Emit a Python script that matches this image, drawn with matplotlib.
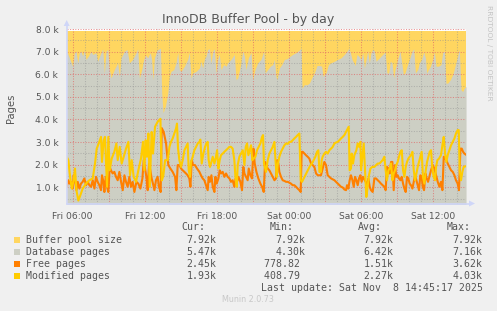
import matplotlib
matplotlib.use("Agg")
import matplotlib.pyplot as plt
import numpy as np

W, H = 497, 311

# time in hours since Fri 00:00, values in pages
db_hours = [5.5, 6.0, 6.14, 6.28, 6.42, 6.56, 6.69, 6.83, 6.97, 7.11, 7.31, 7.53, 7.67, 7.94, 8.08, 8.36, 8.5, 8.64,
            8.78, 8.92, 9.06, 9.19, 9.47, 9.75, 9.89, 10.03, 10.31, 10.53, 10.72, 11.0, 11.28, 11.42, 11.56, 11.75,
            11.92, 12.06, 12.25, 12.47, 12.58, 12.69, 12.81, 13.03, 13.31, 13.42, 13.53, 13.72, 13.92, 14.06, 14.19,
            14.42, 14.61, 14.75, 14.89, 15.03, 15.31, 15.58, 15.72, 15.86, 16.0, 16.28, 16.56, 16.69, 16.83, 16.97,
            17.11, 17.25, 17.39, 17.53, 17.67, 17.81, 17.94, 18.08, 18.22, 18.36, 18.58, 18.78, 18.92, 19.19, 19.47,
            19.61, 19.75, 19.97, 20.17, 20.31, 20.44, 20.64, 20.86, 21.0, 21.19, 21.42, 21.69, 21.92, 22.03, 22.25,
            22.47, 22.67, 22.81, 22.94, 23.03, 23.22, 23.42, 23.64, 23.86, 24.06, 24.33, 24.61, 24.89, 25.03, 25.11,
            25.31, 25.53, 25.72, 25.92, 26.14, 26.36, 26.56, 26.75, 26.86, 26.97, 27.11, 27.31, 27.53, 27.81, 28.08,
            28.36, 28.64, 28.92, 29.0, 29.14, 29.28, 29.42, 29.53, 29.69, 29.83, 30.03, 30.17, 30.31, 30.58, 30.72,
            30.86, 31.0, 31.14, 31.28, 31.56, 31.83, 32.03, 32.19, 32.33, 32.47, 32.61, 32.75, 32.86, 33.08, 33.28,
            33.42, 33.56, 33.69, 33.86, 34.06, 34.28, 34.42, 34.56, 34.75, 34.89, 35.08, 35.25, 35.39, 35.5, 35.64,
            35.81, 36.0, 36.14, 36.28, 36.47, 36.69, 36.83, 36.97, 37.11, 37.25, 37.47, 37.67, 37.86, 38.08, 38.22,
            38.36, 38.5, 38.64, 38.78]
db_pages = [7030, 6360, 6960, 7030, 6510, 6960, 7030, 6810, 7070, 6660, 6810, 7030, 6880, 6960, 6580, 6960, 7130, 6060,
            7030, 7100, 6210, 5840, 6210, 6510, 5910, 6730, 7030, 7100, 6510, 6660, 6960, 7130, 5840, 6210,
            6660, 6850, 6730, 6960, 6660, 5760, 6730, 7070, 7160, 5160, 4300, 4570, 5160, 5910, 6130,
            6210, 6510, 6960, 6210, 6130, 6360, 6660, 6960, 5840, 6060, 6130, 6280, 6580, 6280, 6660,
            6810, 7100, 7130, 6510, 7030, 7130, 6060, 6660, 6880, 6210, 6430, 6360, 6510, 6660, 6880,
            5760, 5840, 6360, 7030, 6810, 6210, 6730, 6960, 5760, 6210, 6510, 6660, 7030, 6060, 6210,
            6360, 6430, 6660, 5910, 5760, 6280, 6430, 6660, 6690, 6780, 6880, 6960, 7070, 7160, 5390,
            5540, 5540, 5610, 5840, 6060, 6390, 6390, 6360, 5910, 5990, 6060, 6430, 6510, 6580, 6660,
            6730, 6880, 7070, 7160, 6960, 6660, 6510, 6390, 6880, 6810, 6660, 6960, 6280, 7030, 6510,
            6960, 7100, 7030, 6580, 6730, 6880, 6990, 6060, 6060, 6580, 6510, 5840, 6210, 6660, 7030,
            6510, 5990, 6060, 6360, 6660, 7030, 7130, 6060, 6210, 6510, 6660, 6990, 6730, 6060, 6210,
            6360, 6660, 6990, 6360, 6360, 6430, 6960, 7030, 5610, 5610, 5760, 5990, 6360, 6810, 7100,
            5310, 5240, 5390, 5470]

free_hours = [5.5, 5.64, 5.75, 5.86, 6.0, 6.08, 6.19, 6.31, 6.42, 6.56, 6.69, 6.83, 6.97, 7.11, 7.25, 7.39, 7.53, 7.67,
              7.81, 7.94, 8.08, 8.22, 8.36, 8.44, 8.56, 8.64, 8.75, 8.86, 8.97, 9.08, 9.19, 9.33, 9.47, 9.61, 9.75,
              9.89, 10.03, 10.17, 10.31, 10.44, 10.58, 10.72, 10.86, 11.0, 11.14, 11.31, 11.47, 11.64, 11.81, 11.92,
              12.03, 12.14, 12.25, 12.36, 12.47, 12.58, 12.69, 12.81, 12.94, 13.08, 13.19, 13.33, 13.42, 13.58,
              13.78, 13.86, 13.97, 14.14, 14.33, 14.53, 14.64, 14.75, 14.89, 15.03, 15.17, 15.31, 15.44, 15.58,
              15.72, 15.81, 15.92, 16.03, 16.19, 16.36, 16.56, 16.69, 16.83, 16.97, 17.11, 17.25, 17.33, 17.44,
              17.56, 17.67, 17.81, 17.89, 18.0, 18.14, 18.25, 18.36, 18.5, 18.64, 18.78, 18.92, 19.06, 19.19,
              19.33, 19.47, 19.58, 19.69, 19.81, 19.97, 20.11, 20.22, 20.31, 20.44, 20.58, 20.67, 20.81, 20.94,
              21.06, 21.17, 21.31, 21.47, 21.64, 21.78, 21.92, 22.03, 22.25, 22.39, 22.53, 22.67, 22.81, 22.94,
              23.03, 23.14, 23.22, 23.36, 23.5, 23.64, 23.78, 23.92, 24.06, 24.19, 24.33, 24.47, 24.61, 24.75,
              24.89, 25.0, 25.08, 25.17, 25.31, 25.44, 25.58, 25.72, 25.86, 26.0, 26.14, 26.28, 26.42, 26.56,
              26.69, 26.83, 26.97, 27.11, 27.25, 27.39, 27.53, 27.67, 27.81, 27.94, 28.08, 28.22, 28.36, 28.5,
              28.64, 28.78, 28.86, 28.97, 29.08, 29.19, 29.31, 29.42, 29.53, 29.64, 29.75, 29.86, 29.97, 30.08,
              30.19, 30.42, 30.53, 30.64, 30.75, 30.86, 31.0, 31.14, 31.28, 31.42, 31.56, 31.69, 31.83, 31.97,
              32.08, 32.19, 32.31, 32.42, 32.53, 32.64, 32.75, 32.86, 32.97, 33.08, 33.19, 33.31, 33.42, 33.53,
              33.64, 33.75, 33.86, 33.97, 34.08, 34.19, 34.31, 34.42, 34.53, 34.64, 34.75, 34.86, 34.97, 35.08,
              35.17, 35.28, 35.39, 35.5, 35.61, 35.72, 35.86, 36.0, 36.14, 36.28, 36.42, 36.56, 36.69, 36.81,
              36.92, 37.03, 37.14, 37.25, 37.39, 37.53, 37.67, 37.81, 37.94, 38.08, 38.19, 38.31, 38.42, 38.53,
              38.64, 38.75]
free_pages = [1020, 1310, 1160, 1240, 940, 1530, 1310, 870, 1240, 940, 1160, 1240, 1390, 1090, 1240, 1090, 1020, 1310,
              940, 1460, 1240, 1090, 870, 1530, 1240, 790, 1460, 1020, 790, 1900, 1750, 1610, 1680, 1460, 1310,
              1680, 1240, 870, 1530, 1240, 1020, 1460, 1020, 1240, 790, 1240, 1160, 940, 1390, 2200,
              1830, 1460, 870, 2050, 1750, 1390, 1160, 870, 1310, 1460, 1020, 790, 3620, 3450,
              2940, 2490, 1980, 1830, 1680, 1460, 870, 1980, 1980, 1830, 1750, 1680, 1610, 1530,
              1390, 1020, 2200, 1980, 1980, 1830, 1680, 1530, 1390, 1310, 1090, 870, 1460, 1240,
              1530, 1020, 790, 1460, 1160, 1390, 1750, 1610, 1680, 1460, 1610, 1460, 1390, 1240,
              1310, 1020, 1390, 1240, 1460, 1240, 870, 1900, 1610, 1460, 1310, 1830, 1530, 1390,
              2710, 2050, 1680, 1390, 1160, 1020, 790, 2120, 1830, 1750, 1610, 1460, 1310, 1390,
              2200, 2050, 1680, 1460, 1310, 1280, 1240, 1240, 1200, 1160, 1090, 1090, 1020, 940,
              870, 790, 2570, 2570, 2490, 2420, 2350, 2270, 2050, 1980, 1900, 1610, 1530, 1530,
              1530, 1830, 2120, 1980, 1530, 1460, 1390, 1350, 1310, 1240, 1160, 1090, 1020, 990,
              900, 870, 1090, 940, 1310, 1530, 1310, 1020, 1460, 1310, 1090, 1390, 1530, 1240,
              1460, 1240, 1020, 1390, 1020, 870, 790, 1390, 1390, 1310, 1240, 1160, 1090, 1020,
              870, 1900, 1830, 1610, 2120, 2120, 870, 1980, 1460, 1530, 1390, 1310, 1460, 1160,
              940, 790, 1460, 1390, 1160, 1090, 940, 1240, 1530, 1310, 1090, 870, 1530, 1460,
              1020, 870, 1610, 1390, 1240, 1460, 1750, 1980, 1830, 1530, 1240, 1020, 1240, 870,
              2350, 2270, 2200, 2050, 1900, 1750, 1680, 1530, 1310, 1160, 870, 2710, 2710, 2570,
              2490, 2450]

mod_hours = [5.5, 5.64, 5.75, 5.92, 6.08, 6.19, 6.31, 6.47, 6.64, 6.83, 7.11, 7.39, 7.67, 7.86, 8.0, 8.17, 8.31, 8.36,
             8.44, 8.58, 8.69, 8.78, 8.86, 8.97, 9.08, 9.25, 9.47, 9.64, 9.75, 9.92, 10.08, 10.25, 10.44, 10.64,
             10.78, 10.92, 11.08, 11.28, 11.47, 11.69, 11.86, 11.97, 12.08, 12.19, 12.31, 12.42, 12.58, 12.69,
             12.86, 13.08, 13.31, 13.42, 13.55, 13.7, 13.92, 14.06, 14.19, 14.33, 14.47, 14.61, 14.69, 14.78,
             14.89, 15.03, 15.17, 15.31, 15.44, 15.58, 15.67, 15.78, 15.86, 16.0, 16.14, 16.28, 16.42, 16.56,
             16.64, 16.75, 16.89, 17.03, 17.14, 17.25, 17.33, 17.44, 17.56, 17.67, 17.81, 17.94, 18.03, 18.14,
             18.25, 18.36, 18.5, 18.64, 18.78, 18.92, 19.06, 19.19, 19.33, 19.47, 19.56, 19.67, 19.75, 19.89,
             20.03, 20.17, 20.31, 20.42, 20.53, 20.64, 20.78, 20.86, 20.97, 21.08, 21.22, 21.36, 21.5, 21.64,
             21.78, 21.86, 21.94, 22.11, 22.25, 22.39, 22.53, 22.67, 22.81, 22.89, 23.0, 23.08, 23.22, 23.36,
             23.5, 23.64, 23.78, 23.92, 24.06, 24.19, 24.33, 24.47, 24.61, 24.75, 24.89, 25.0, 25.11, 25.25,
             25.39, 25.53, 25.67, 25.81, 25.94, 26.08, 26.22, 26.36, 26.47, 26.56, 26.69, 26.75, 26.83, 26.97,
             27.11, 27.25, 27.39, 27.53, 27.67, 27.81, 27.94, 28.08, 28.22, 28.36, 28.5, 28.64, 28.78, 28.92,
             29.0, 29.08, 29.19, 29.25, 29.36, 29.47, 29.64, 29.75, 29.86, 29.97, 30.03, 30.14, 30.25, 30.39,
             30.47, 30.58, 30.69, 30.81, 30.97, 31.14, 31.28, 31.42, 31.56, 31.69, 31.83, 31.97, 32.08, 32.19,
             32.31, 32.42, 32.53, 32.64, 32.75, 32.86, 32.97, 33.08, 33.19, 33.31, 33.42, 33.53, 33.64, 33.75,
             33.86, 33.97, 34.08, 34.19, 34.31, 34.42, 34.53, 34.64, 34.75, 34.86, 34.97, 35.08, 35.19, 35.31,
             35.42, 35.53, 35.64, 35.75, 35.86, 35.97, 36.08, 36.19, 36.28, 36.39, 36.53, 36.69, 36.83, 36.92,
             37.03, 37.14, 37.25, 37.39, 37.53, 37.67, 37.81, 37.94, 38.08, 38.17, 38.25, 38.36, 38.47, 38.58,
             38.75]
mod_pages = [2350, 2200, 1610, 940, 1310, 1830, 870, 410, 650, 940, 1160, 1310, 1390, 2050, 2710, 2940, 3160, 3230,
             2120, 3080, 3230, 2050, 1020, 3230, 1750, 2270, 2570, 2940, 2200, 2790, 2050, 2350, 2710, 3010,
             1530, 2200, 1460, 1240, 1750, 2270, 3010, 1750, 3080, 2350, 3380, 1020, 3450, 2490,
             3680, 3900, 4030, 1300, 1500, 2200, 2200, 2790, 3010, 3160, 3380, 3600, 3820, 2710,
             2200, 1900, 2200, 2640, 2790, 2940, 1750, 1460, 2120, 2350, 2640, 2790, 2940, 3010,
             3110, 2050, 2490, 2790, 2940, 3010, 2200, 1900, 2120, 2350, 2050, 2350, 2640, 1830,
             2200, 2420, 2490, 2570, 2640, 2710, 2790, 2790, 2710, 2200, 1460, 1020, 1980, 2350,
             2490, 2640, 1980, 2790, 2940, 2420, 2710, 2860, 2200, 2270, 2350, 2640, 2790, 2940,
             3230, 3310, 2050, 1680, 2200, 2490, 2640, 2790, 3010, 2270, 1460, 1980, 2350, 2570,
             2710, 2860, 2940, 2920, 3010, 3010, 3080, 3160, 3230, 3310, 3380, 1310, 1240, 1390,
             1530, 1680, 1830, 1980, 2050, 2200, 2350, 2570, 2640, 1680, 1680, 2200, 2350, 2490,
             2570, 2490, 2640, 2710, 2790, 2940, 2980, 3010, 3080, 3160, 3230, 3310, 3450, 3600,
             3680, 1750, 1830, 2490, 2050, 2420, 2640, 2940, 2790, 3010, 1750, 2350, 2940, 1460,
             570, 1020, 1530, 1830, 1900, 1900, 1980, 2050, 2050, 2120, 2200, 2350, 1750, 1310,
             1750, 1830, 2050, 1310, 1610, 1750, 1980, 2120, 2350, 2570, 2640, 1750, 1460, 1900,
             2120, 2270, 2350, 2420, 2570, 1750, 1310, 1610, 1900, 2120, 2350, 2570, 1460, 1160,
             1750, 2120, 2350, 2570, 2640, 1830, 1460, 1310, 1900, 2200, 2270, 2420, 2940, 3230,
             2490, 2120, 2420, 2640, 2860, 3010, 3160, 3380, 3530, 3530, 1750, 1310, 1680, 1900,
             1930]

pool_size = 7920
t_start, t_end = 5.5, 38.75

x_ticks = [6, 12, 18, 24, 30, 36]
x_labels = ["Fri 06:00", "Fri 12:00", "Fri 18:00", "Sat 00:00", "Sat 06:00", "Sat 12:00"]
y_ticks = [1000, 2000, 3000, 4000, 5000, 6000, 7000, 8000]
y_labels = ["1.0 k", "2.0 k", "3.0 k", "4.0 k", "5.0 k", "6.0 k", "7.0 k", "8.0 k"]

names = ["Buffer pool size", "Database pages", "Free pages", "Modified pages"]
colors = ["#FFD660", "#CDCFC4", "#FF8000", "#FFCC00"]
cur_vals = ["7.92k", "5.47k", "2.45k", "1.93k"]
min_vals = ["7.92k", "4.30k", "778.82 ", "408.79 "]
avg_vals = ["7.92k", "6.42k", "1.51k", "2.27k"]
max_vals = ["7.92k", "7.16k", "3.62k", "4.03k"]

font_col = "#555555"
axis_col = "#CFD6F8"

fig = plt.figure(figsize=(W / 100, H / 100), dpi=100, facecolor="#F0F0F0")


def fx(px):
    return px / W


def fy(py):
    return 1 - py / H


ax = fig.add_axes([fx(66.7), fy(203.5), (465.7 - 66.7) / W, (203.5 - 28.5) / H])
ax.set_facecolor("white")

ax.fill_between([t_start, t_end], 0, pool_size, color=colors[0], lw=0, zorder=1)
ax.fill_between(db_hours, 0, db_pages, color=colors[1], lw=0, zorder=1.1)
ax.plot(free_hours, free_pages, color=colors[2], lw=1.5, zorder=3)
ax.plot(mod_hours, mod_pages, color=colors[3], lw=1.5, zorder=3.1)

ax.set_xlim(t_start, t_end)
ax.set_ylim(280, 8030)

ax.set_xticks(x_ticks)
ax.set_xticklabels(x_labels)
ax.set_yticks(y_ticks)
ax.set_yticklabels(y_labels)
ax.tick_params(length=0, labelsize=6.6, labelcolor=font_col, pad=6)
for s in ax.spines.values():
    s.set_visible(False)

# grid: minor gray, major red, dotted
dots = (0, (1, 1.5))
for h in np.arange(6, 39, 1):
    if h % 3 == 0:
        ax.axvline(h, color="#E06666", lw=0.75, ls=dots, alpha=0.7, zorder=2)
    else:
        ax.axvline(h, color="#8F8F8F", lw=0.75, ls=dots, alpha=0.5, zorder=2)
for v in np.arange(500, 8001, 500):
    if v % 1000 == 0:
        ax.axhline(v, color="#E06666", lw=0.75, ls=dots, alpha=0.7, zorder=2)
    else:
        ax.axhline(v, color="#8F8F8F", lw=0.75, ls=dots, alpha=0.5, zorder=2)

# axes with arrows
fig.add_artist(plt.Line2D([fx(66.7), fx(66.7)], [fy(203.5), fy(26)], color=axis_col, lw=1.2))
fig.add_artist(plt.Line2D([fx(66.7), fx(470)], [fy(203.5), fy(203.5)], color=axis_col, lw=1.2))
fig.add_artist(plt.Polygon([[fx(63.7), fy(26)], [fx(69.7), fy(26)], [fx(66.7), fy(20)]], color=axis_col, lw=0))
fig.add_artist(plt.Polygon([[fx(469), fy(200.5)], [fx(469), fy(206.5)], [fx(475), fy(203.5)]], color=axis_col, lw=0))

fig.text(fx(248.5), fy(19), "InnoDB Buffer Pool - by day", ha="center", va="center", fontsize=9, color=font_col)
fig.text(fx(11), fy(108), "Pages", rotation=90, ha="center", va="center", fontsize=7.2, color=font_col)
fig.text(fx(489), fy(5), "RRDTOOL / TOBI OETIKER", rotation=270, ha="center", va="top", fontsize=5.4,
         color="#C4C4C4")

mono = dict(family="DejaVu Sans Mono", fontsize=7.1, color=font_col, va="center")
for lbl, xp in zip(["Cur:", "Min:", "Avg:", "Max:"], [181, 269.7, 357.7, 446.7]):
    fig.text(fx(xp), fy(227.3), lbl, ha="left", **mono)
for i, name in enumerate(names):
    yp = 240 + i * 11.9
    fig.add_artist(plt.Rectangle((fx(14), fy(yp + 3)), 6 / W, 6 / H, color=colors[i], lw=0))
    fig.text(fx(26), fy(yp), name, ha="left", **mono)
    for vals, xp in zip([cur_vals, min_vals, avg_vals, max_vals], [216.7, 305.7, 393.7, 482.7]):
        fig.text(fx(xp), fy(yp), vals[i], ha="right", **mono)
fig.text(fx(482.7), fy(287.7), "Last update: Sat Nov  8 14:45:17 2025", ha="right", **mono)
fig.text(fx(248), fy(300), "Munin 2.0.73", ha="center", va="center", fontsize=5.8, color="#C8C8C8")

fig.savefig("out.png", dpi=100, facecolor=fig.get_facecolor())
